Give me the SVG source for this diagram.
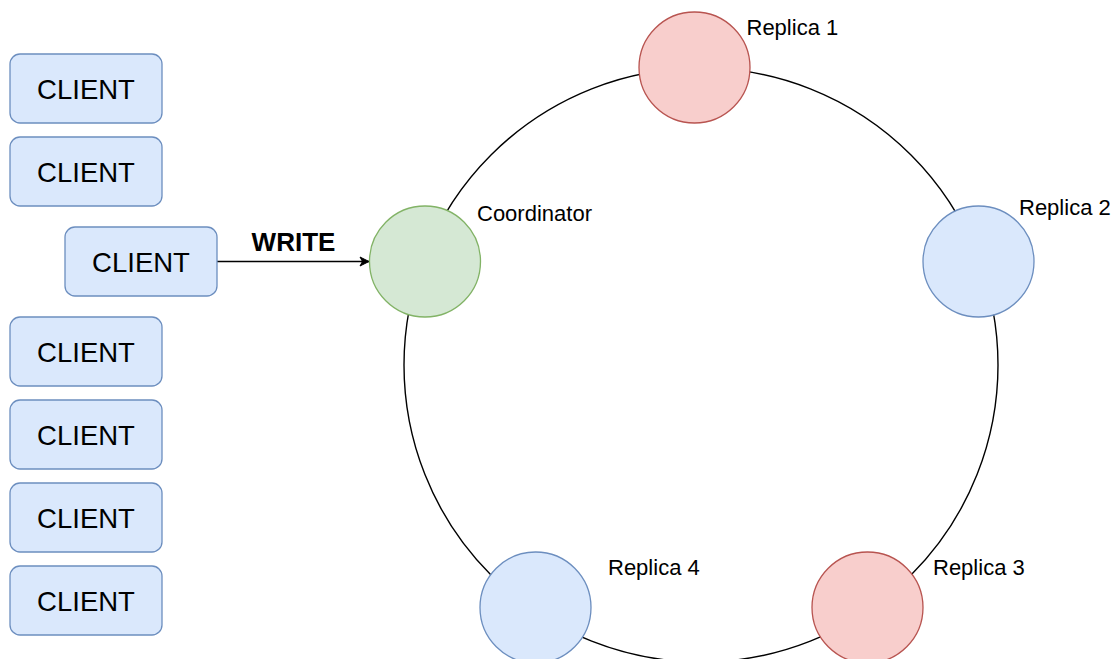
<svg xmlns="http://www.w3.org/2000/svg" width="1112" height="659" viewBox="0 0 1112 659">
  <style>
    .client rect { fill: #dae8fc; stroke: #6c8ebf; stroke-width: 1.3; }
    .client text { font-family: "Liberation Sans", Arial, sans-serif; font-size: 27.5px; fill: #000; text-anchor: middle; }
    .blue { fill: #dae8fc; stroke: #6c8ebf; stroke-width: 1.3; }
    .red { fill: #f8cecc; stroke: #b85450; stroke-width: 1.3; }
    .green { fill: #d5e8d4; stroke: #82b366; stroke-width: 1.3; }
    .label { font-family: "Liberation Sans", Arial, sans-serif; font-size: 22px; fill: #000; }
    .ring { fill: none; stroke: #000; stroke-width: 1.4; }
    .edge { fill: none; stroke: #000; stroke-width: 1.4; }
  </style>
  <defs>
    <marker id="arrow" markerWidth="12" markerHeight="12" refX="10" refY="6" orient="auto" markerUnits="userSpaceOnUse">
      <path d="M1,1.5 L10,6 L1,10.5 L3.5,6 Z" fill="#000" stroke="#000" stroke-width="1"/>
    </marker>
  </defs>

  <rect width="1112" height="659" fill="#fff"/>

  <!-- ring connecting the nodes, plus the write request -->
  <g id="connectors">
    <circle class="ring" cx="701" cy="365" r="297"/>
    <line class="edge" x1="217" y1="261.5" x2="369" y2="261.5" marker-end="url(#arrow)"/>
    <text x="293.5" y="251" font-family="Liberation Sans, Arial, sans-serif" font-size="26" font-weight="bold" text-anchor="middle">WRITE</text>
  </g>

  <!-- clients -->
  <g id="client1" class="client"><rect x="10" y="54" width="152" height="69" rx="10"/><text x="86" y="99">CLIENT</text></g>
  <g id="client2" class="client"><rect x="10" y="137" width="152" height="69" rx="10"/><text x="86" y="182">CLIENT</text></g>
  <g id="client3" class="client"><rect x="65" y="227" width="152" height="69" rx="10"/><text x="141" y="272">CLIENT</text></g>
  <g id="client4" class="client"><rect x="10" y="317" width="152" height="69" rx="10"/><text x="86" y="362">CLIENT</text></g>
  <g id="client5" class="client"><rect x="10" y="400" width="152" height="69" rx="10"/><text x="86" y="445">CLIENT</text></g>
  <g id="client6" class="client"><rect x="10" y="483" width="152" height="69" rx="10"/><text x="86" y="528">CLIENT</text></g>
  <g id="client7" class="client"><rect x="10" y="566" width="152" height="69" rx="10"/><text x="86" y="611">CLIENT</text></g>

  <!-- ring nodes -->
  <g id="coordinator">
    <circle class="green" cx="425" cy="261.5" r="55.5"/>
    <text class="label" x="477" y="221" font-size="19.3">Coordinator</text>
  </g>
  <g id="replica1">
    <circle class="red" cx="694.5" cy="67.5" r="55.5"/>
    <text class="label" x="746.5" y="35">Replica 1</text>
  </g>
  <g id="replica2">
    <circle class="blue" cx="978.5" cy="261.5" r="55.5"/>
    <text class="label" x="1019" y="215">Replica 2</text>
  </g>
  <g id="replica3">
    <circle class="red" cx="867.5" cy="607.5" r="55.5"/>
    <text class="label" x="933" y="575">Replica 3</text>
  </g>
  <g id="replica4">
    <circle class="blue" cx="535.5" cy="607.5" r="55.5"/>
    <text class="label" x="608" y="575">Replica 4</text>
  </g>
</svg>
